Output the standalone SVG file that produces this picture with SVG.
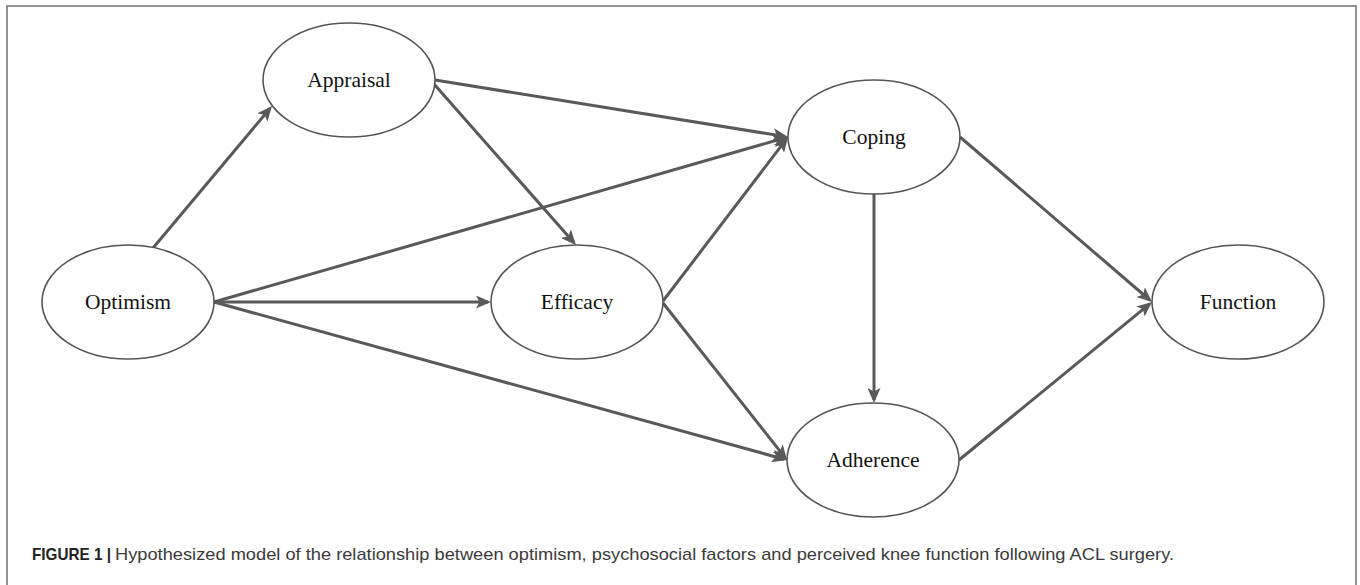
<svg xmlns="http://www.w3.org/2000/svg" width="1360" height="585" viewBox="0 0 1360 585">
  <style>
    .frame { fill: none; stroke: #7a7a7a; stroke-width: 1.6; }
    .node ellipse { fill: #ffffff; stroke: #555555; stroke-width: 1.6; }
    .node text { font-family: "Liberation Serif", "Times New Roman", serif; font-size: 21.5px; fill: #111111; text-anchor: middle; }
    .edges line { stroke: #595959; stroke-width: 3; marker-end: url(#head); }
    .caption { font-family: "Liberation Sans", Arial, sans-serif; font-size: 17px; fill: #3a3a3a; }
    .caption.lead { font-weight: bold; fill: #222222; }
  </style>
  <defs>
    <!-- filled arrowhead with a shallow notch; tip sits 3px past the line end -->
    <marker id="head" viewBox="0 0 15 13" refX="12" refY="6.5" markerWidth="15" markerHeight="13" markerUnits="userSpaceOnUse" orient="auto">
      <path d="M0,0 L15,6.5 L0,13 L3.5,6.5 z" fill="#595959"/>
    </marker>
  </defs>

  <rect class="frame" x="7" y="6" width="1349" height="620"/>

  <!-- paths between the constructs -->
  <g id="connectors" class="edges">
    <line x1="153" y1="248" x2="270.1" y2="108.3"/>
    <line x1="214" y1="302" x2="785.1" y2="137.8"/>
    <line x1="214" y1="302" x2="488" y2="302"/>
    <line x1="214" y1="302" x2="784.1" y2="459.2"/>
    <line x1="435" y1="80" x2="785" y2="136.5"/>
    <line x1="434" y1="84" x2="574" y2="242.7"/>
    <line x1="663" y1="301" x2="786.2" y2="139.4"/>
    <line x1="663" y1="303" x2="785.1" y2="457.6"/>
    <line x1="874" y1="194" x2="874" y2="400"/>
    <line x1="960" y1="137" x2="1149.7" y2="300"/>
    <line x1="959" y1="460" x2="1149.7" y2="303.9"/>
  </g>

  <g id="appraisal" class="node">
    <ellipse cx="349" cy="80" rx="86" ry="57"/>
    <text x="349" y="87">Appraisal</text>
  </g>
  <g id="optimism" class="node">
    <ellipse cx="128" cy="302" rx="86" ry="57"/>
    <text x="128" y="309">Optimism</text>
  </g>
  <g id="efficacy" class="node">
    <ellipse cx="577" cy="302" rx="86" ry="57"/>
    <text x="577" y="309">Efficacy</text>
  </g>
  <g id="coping" class="node">
    <ellipse cx="874" cy="137" rx="86" ry="57"/>
    <text x="874" y="143.5">Coping</text>
  </g>
  <g id="adherence" class="node">
    <ellipse cx="873" cy="460" rx="86" ry="57"/>
    <text x="873" y="466.5">Adherence</text>
  </g>
  <g id="function" class="node">
    <ellipse cx="1238" cy="302" rx="86" ry="57"/>
    <text x="1238" y="309">Function</text>
  </g>

  <!-- figure caption -->
  <text class="caption lead" x="32" y="560" textLength="79" lengthAdjust="spacingAndGlyphs">FIGURE 1 |</text>
  <text class="caption" x="115" y="560" textLength="1059" lengthAdjust="spacingAndGlyphs">Hypothesized model of the relationship between optimism, psychosocial factors and perceived knee function following ACL surgery.</text>
</svg>
